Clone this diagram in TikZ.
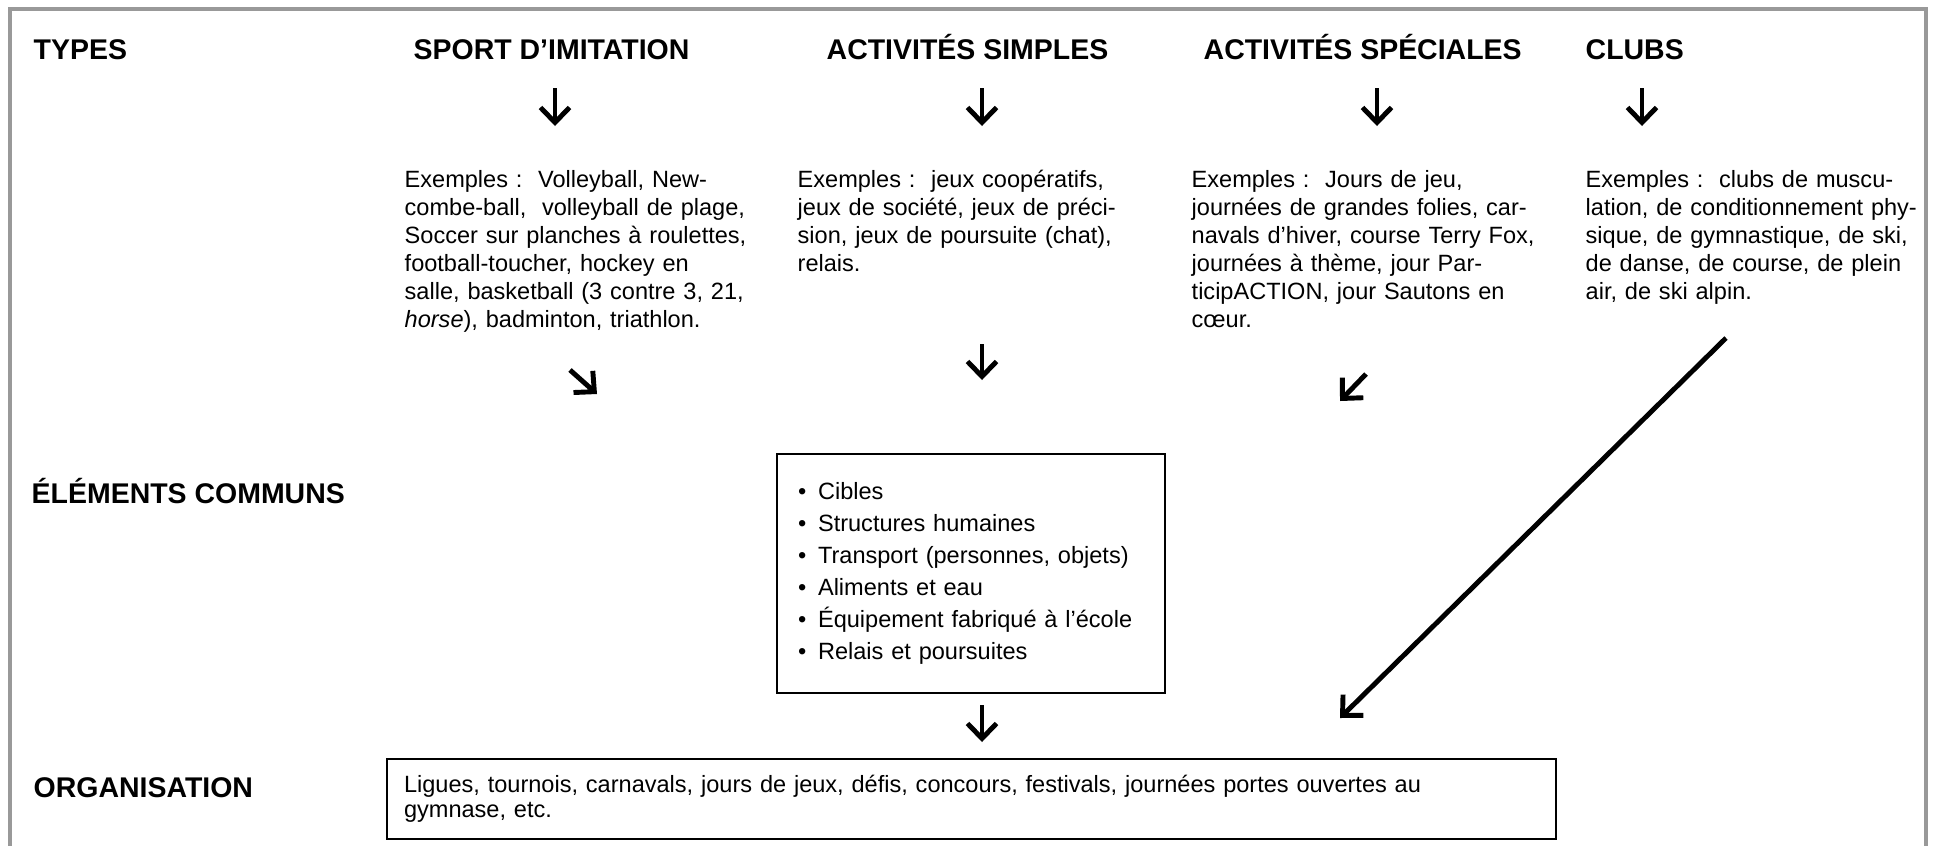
\documentclass[tikz,border=0pt]{standalone}
\usepackage{fontspec}
\setmainfont{Liberation Sans}
\usetikzlibrary{arrows.meta}

\tikzset{
	titre/.style={anchor=base west, inner sep=0pt, font=\fontsize{8.1}{9.5}\selectfont\bfseries},
	texte/.style={anchor=base west, inner sep=0pt, align=left, text width=3.6cm, font=\fontsize{6.7}{8}\selectfont},
	boite/.style={draw, line width=0.6pt, align=left, font=\fontsize{6.7}{9.1}\selectfont},
	fleche/.style={->, line width=1.4pt},
	cadre/.style={draw=gray!80, line width=1pt}
}
\newcommand{\puce}{\makebox[0.2cm][l]{•}}

\begin{document}
\begin{tikzpicture}[line join=miter, >={Straight Barb[length=1.5mm,width=2.9mm]}]
	\useasboundingbox (0,0) rectangle (19.33,-8.45);
	\draw[cadre] (0.10,-8.60) |- (19.26,-0.09) -- (19.26,-8.60);
	% titres
	\node[titre] (types) at (0.33,-0.59) {TYPES};
	\node[titre] (sport) at (4.13,-0.59) {SPORT D’IMITATION};
	\node[titre] (simples) at (8.26,-0.59) {ACTIVITÉS SIMPLES};
	\node[titre] (speciales) at (12.03,-0.59) {ACTIVITÉS SPÉCIALES};
	\node[titre] (clubs) at (15.85,-0.59) {CLUBS};
	\node[titre] (elements) at (0.31,-5.03) {ÉLÉMENTS COMMUNS};
	\node[titre] (organisation) at (0.33,-7.97) {ORGANISATION};
	% exemples
	\node[texte] (ex1) at (4.04,-1.87) {Exemples~:~~Volleyball, New-\\combe-ball,~~volleyball de plage,\\Soccer sur planches à roulettes,\\football-toucher, hockey en\\salle, basketball (3 contre 3, 21,\\\textit{horse}), badminton, triathlon.};
	\node[texte] (ex2) at (7.97,-1.87) {Exemples~:~~jeux coopératifs,\\jeux de société, jeux de préci-\\sion, jeux de poursuite (chat),\\relais.};
	\node[texte] (ex3) at (11.91,-1.87) {Exemples~:~~Jours de jeu,\\journées de grandes folies, car-\\navals d’hiver, course Terry Fox,\\journées à thème, jour Par-\\ticipACTION, jour Sautons en\\cœur.};
	\node[texte] (ex4) at (15.85,-1.87) {Exemples~:~~clubs de muscu-\\lation, de conditionnement phy-\\sique, de gymnastique, de ski,\\de danse, de course, de plein\\air, de ski alpin.};
	% boites
	\node[boite, anchor=north west, text width=3.46cm, inner xsep=0.21cm, minimum height=2.39cm] (communs) at (7.76,-4.53)
		{\puce Cibles\\\puce Structures humaines\\\puce Transport (personnes, objets)\\\puce Aliments et eau\\\puce Équipement fabriqué à l’école\\\puce Relais et poursuites};
	\node[boite, anchor=north west, text width=11.35cm, inner xsep=0.17cm, minimum height=0.80cm, font=\fontsize{6.7}{7.2}\selectfont] (orga) at (3.86,-7.58)
		{Ligues, tournois, carnavals, jours de jeux, défis, concours, festivals, journées portes ouvertes au\\gymnase, etc.};
	% fleches
	\coordinate (a1) at (5.55,-0.88); \coordinate (b1) at (5.55,-1.26);
	\coordinate (a2) at (9.82,-0.88); \coordinate (b2) at (9.82,-1.26);
	\coordinate (a3) at (13.77,-0.88); \coordinate (b3) at (13.77,-1.26);
	\coordinate (a4) at (16.42,-0.88); \coordinate (b4) at (16.42,-1.26);
	\coordinate (c1) at (5.70,-3.70); \coordinate (d1) at (5.97,-3.94);
	\coordinate (c2) at (9.82,-3.44); \coordinate (d2) at (9.82,-3.80);
	\coordinate (c3) at (13.66,-3.74); \coordinate (d3) at (13.40,-4.01);
	\coordinate (c4) at (17.26,-3.38); \coordinate (d4) at (13.40,-7.18);
	\coordinate (c5) at (9.82,-7.05); \coordinate (d5) at (9.82,-7.42);
	\draw[fleche] (a1)--(b1); \draw[fleche] (a2)--(b2);
	\draw[fleche] (a3)--(b3); \draw[fleche] (a4)--(b4);
	\draw[fleche] (c1)--(d1); \draw[fleche] (c2)--(d2);
	\draw[fleche] (c3)--(d3); \draw[fleche] (c4)--(d4);
	\draw[fleche] (c5)--(d5);
\end{tikzpicture}
\end{document}
